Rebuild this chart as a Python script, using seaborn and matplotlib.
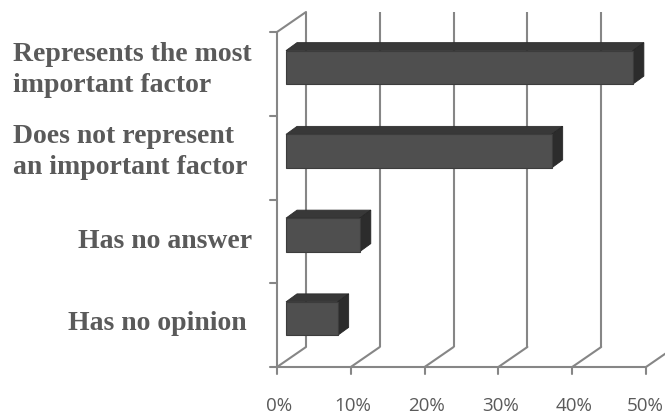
import matplotlib
matplotlib.use("Agg")
import matplotlib.pyplot as plt
import seaborn as sns
import pandas as pd
from matplotlib.patches import Polygon
from matplotlib.transforms import blended_transform_factory

# survey answers and their shares (%)
categories = [
    "Represents the most\nimportant factor",
    "Does not represent\nan important factor",
    "Has no answer",
    "Has no opinion",
]
shares = [47, 36, 10, 7]
tick_values = [0, 10, 20, 30, 40, 50]
tick_labels = ["0%", "10%", "20%", "30%", "40%", "50%"]

sns.set_theme(style="white")

W, H = 665, 414
fig = plt.figure(figsize=(W / 100, H / 100), dpi=100)
ax = fig.add_axes([0, 0, 1, 1])

# pixel geometry of the pseudo-3D frame
PX_X = 7.38      # pixels per percent
PX_Y = 83.75     # pixels per category band
LEFT = 277       # pixel x of 0% on the front plane
TOP = 33         # pixel y of the front plane top
DX = 29 / PX_X   # full depth of the box, x
DY = -20 / PX_Y  # full depth of the box, y (upwards)

front_col = "#4f4f4f"
top_col = "#383838"
side_col = "#2c2c2c"
grid_col = "#868686"

df = pd.DataFrame({"answer": categories, "share": shares})
sns.barplot(data=df, x="share", y="answer", orient="h", width=0.4,
            color=front_col, saturation=1, ax=ax, zorder=5,
            edgecolor="#3c3c3c", linewidth=0.8)

ax.set_xlim(-LEFT / PX_X, (W - LEFT) / PX_X)
ax.set_ylim(3.5 + (H - 368) / PX_Y, -0.5 - TOP / PX_Y)
ax.axis("off")

n = len(categories)
y_front_top, y_front_bot = -0.5, n - 0.5
x_max = tick_values[-1]

tick_style = dict(va="baseline", fontsize=13.5, color="#5a5a5a", family="Open Sans")

# back wall gridlines, floor diagonals, bottom ticks and tick labels
for i, (v, lab) in enumerate(zip(tick_values, tick_labels)):
    ax.plot([v + DX, v + DX], [y_front_bot + DY, y_front_top + DY],
            color=grid_col, lw=1.5, zorder=1, solid_capstyle="butt")
    ax.plot([v, v + DX], [y_front_bot, y_front_bot + DY],
            color=grid_col, lw=1.5, zorder=1)
    ax.plot([v, v], [y_front_bot, y_front_bot + 7 / PX_Y],
            color=grid_col, lw=1.5, zorder=1)
    y_lab = y_front_bot + 43 / PX_Y
    if i == len(tick_values) - 1:
        # last label kept inside the right edge of the figure
        tr = blended_transform_factory(fig.transFigure, ax.transData)
        ax.text(0.998, y_lab, lab, ha="right", transform=tr, **tick_style)
    else:
        ax.text(v + 0.3, y_lab, lab, ha="center", **tick_style)

# floor front edge and left wall
ax.plot([0, x_max], [y_front_bot, y_front_bot], color=grid_col, lw=1.5, zorder=1)
ax.plot([0, 0], [y_front_bot, y_front_top], color=grid_col, lw=1.5, zorder=1)
ax.plot([0, DX], [y_front_top, y_front_top + DY], color=grid_col, lw=1.5, zorder=1)
for k in range(n + 1):
    yk = y_front_top + k
    ax.plot([0, -7 / PX_X], [yk, yk], color=grid_col, lw=1.5, zorder=1)

# give each bar its depth: shift front face, add top and side faces
shift_x, shift_y = 9 / PX_X, -6.5 / PX_Y
bdx, bdy = 11 / PX_X, -8 / PX_Y
for p in ax.patches[:n]:
    p.set_x(p.get_x() + shift_x)
    p.set_y(p.get_y() + shift_y)
    x0, y0 = p.get_x(), p.get_y()
    w, h = p.get_width(), p.get_height()
    top = Polygon([(x0, y0), (x0 + bdx, y0 + bdy), (x0 + w + bdx, y0 + bdy),
                   (x0 + w, y0)], closed=True, facecolor=top_col,
                  edgecolor="#2e2e2e", lw=0.6, zorder=4)
    side = Polygon([(x0 + w, y0), (x0 + w + bdx, y0 + bdy),
                    (x0 + w + bdx, y0 + h + bdy), (x0 + w, y0 + h)],
                   closed=True, facecolor=side_col, edgecolor="#262626",
                   lw=0.6, zorder=4)
    ax.add_patch(top)
    ax.add_patch(side)

# category labels
def px(x, y):
    return (x - LEFT) / PX_X, (y - TOP) / PX_Y - 0.5

label_style = dict(family="Liberation Serif", weight="bold", fontsize=20,
                   color="#5a5a5a", va="center", linespacing=1.3)
ax.text(*px(13, 70), categories[0], ha="left", **label_style)
ax.text(*px(13, 152), categories[1], ha="left", **label_style)
ax.text(*px(252, 242), categories[2], ha="right", **label_style)
ax.text(*px(247, 324), categories[3], ha="right", **label_style)

fig.savefig("out.png", dpi=100)
